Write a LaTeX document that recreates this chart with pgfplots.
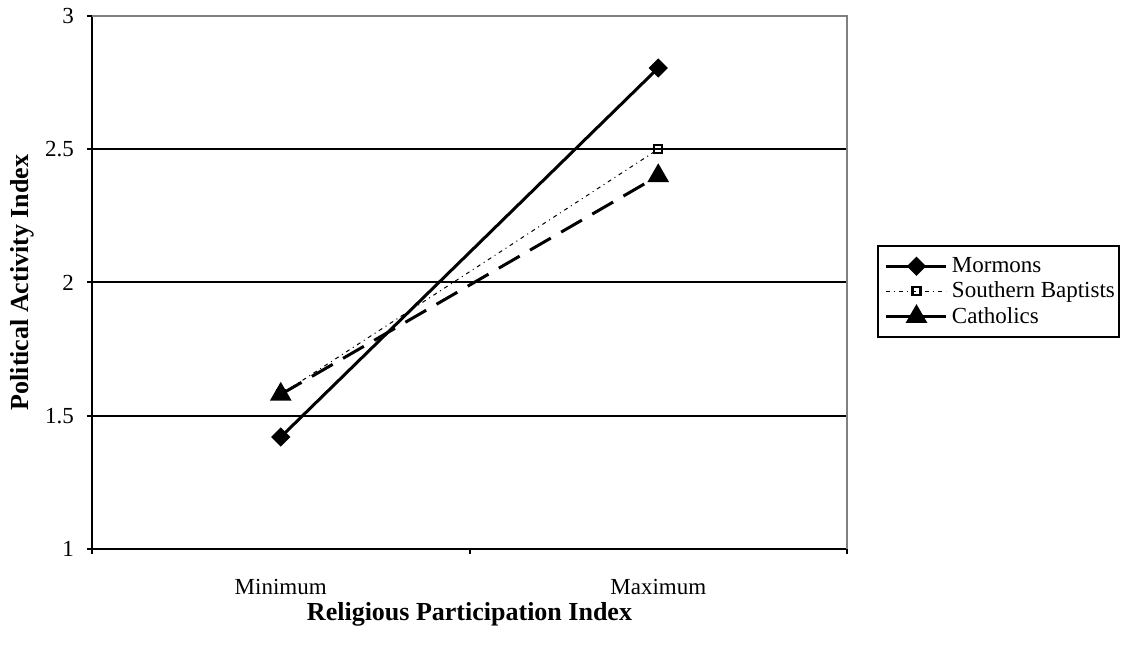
\documentclass[border=0pt]{standalone}
\usepackage{pgfplots}
\pgfplotsset{compat=1.18}
\usepackage{fontspec}
\setmainfont{Liberation Serif}

\definecolor{bordergray}{RGB}{128,128,128}

\begin{document}
\begin{tikzpicture}
  \useasboundingbox (0,0) rectangle (561.5pt,323pt);
  \begin{axis}[
      at={(46pt,48.5pt)}, anchor=south west,
      scale only axis, width=377.5pt, height=266.5pt,
      xmin=-0.5, xmax=1.5, ymin=1, ymax=3,
      axis lines=left, axis line style={-, line width=1pt},
      xtick={0,1}, xticklabels={Minimum,Maximum},
      major x tick style={draw=none},
      minor xtick={-0.5,0.5,1.5},
      ytick={1,1.5,2,2.5,3},
      tick align=outside, major tick length=2.5pt, minor tick length=2.5pt,
      every tick/.style={black, line width=1pt},
      ymajorgrids, major grid style={black, line width=1pt},
      /pgf/number format/assume math mode=true,
      tick label style={font=\fontsize{11.5}{13}\selectfont},
      xticklabel style={yshift=-9pt},
      yticklabel style={xshift=-3pt},
      xlabel={\textbf{Religious Participation Index}},
      ylabel={\textbf{Political Activity Index}},
      label style={font=\fontsize{13}{15}\selectfont},
      xlabel style={at={(axis description cs:0.5,-0.122)}, anchor=center},
      ylabel style={at={(axis description cs:-0.0925,0.5)}, anchor=center},
      clip=false,
      legend style={at={(axis description cs:1.0397,0.57)}, anchor=north west,
        draw=black, line width=1pt, font=\fontsize{11.5}{13}\selectfont,
        inner xsep=0pt, inner ysep=3.5pt, row sep=-0.75pt,
        cells={anchor=west}},
      legend image code/.code={%
        \path (0pt,0pt);
        \draw[mark repeat=2, mark phase=2, #1]
          plot coordinates {(3.5pt,0pt) (18.5pt,0pt) (33.5pt,0pt)};},
    ]
    \addplot[black, line width=1.5pt, mark=square*,
      mark size=2.65pt, mark options={solid, rotate=45}]
      coordinates {(0,1.42) (1,2.805)};
    \addlegendentry{Mormons}
    \addplot[black, line width=0.5pt,
      dash pattern=on 2pt off 2pt on 0.5pt off 2pt,
      mark=square, mark size=2pt,
      mark options={solid, fill=white, line width=1.2pt}]
      coordinates {(0,1.58) (1,2.50)};
    \addlegendentry{Southern Baptists}
    \addplot[black, line width=1.5pt, dash pattern=on 12pt off 6pt,
      mark=triangle*, mark size=4.8pt, mark options={solid}]
      coordinates {(0,1.58) (1,2.40)};
    \addlegendentry{Catholics}
    \draw[bordergray, line width=1pt]
      (rel axis cs:0,1) -- (rel axis cs:1,1) -- (rel axis cs:1,0);
  \end{axis}
\end{tikzpicture}
\end{document}
